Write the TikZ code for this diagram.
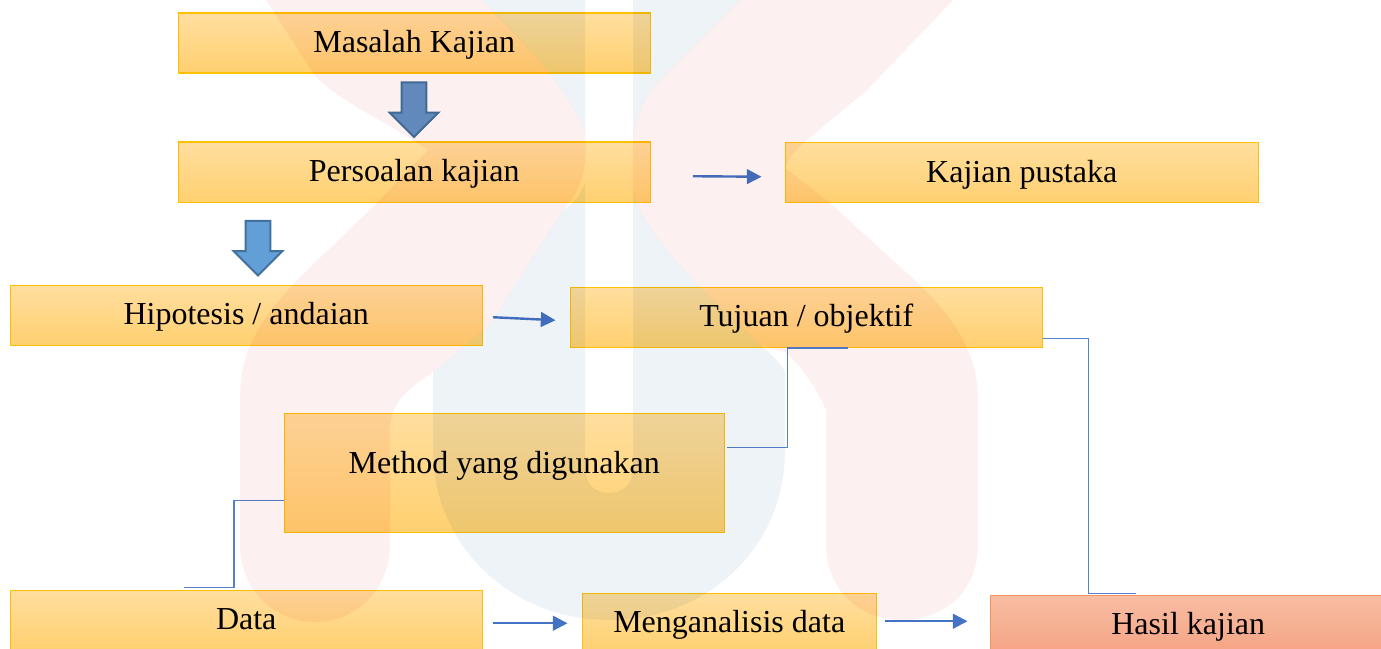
\documentclass[tikz,border=0pt]{standalone}
\usepackage{fontspec}
\setmainfont{Liberation Serif}
\usetikzlibrary{arrows.meta,shapes.arrows}
\definecolor{wmred}{HTML}{FDF0F0}
\definecolor{wmblue}{HTML}{EEF3F8}
\definecolor{yline}{HTML}{FFC000}
\definecolor{rline}{HTML}{F4935A}
\definecolor{ytop}{HTML}{FFDE9E}
\definecolor{ybot}{HTML}{FFD070}
\definecolor{rtop}{HTML}{F8BDA4}
\definecolor{rbot}{HTML}{F4A382}
\definecolor{arrline}{HTML}{41719C}
\definecolor{conn}{HTML}{4472C4}
\definecolor{elbowc}{HTML}{5580CC}
\definecolor{arrfillA}{HTML}{6292C8}
\definecolor{arrfillB}{HTML}{629FD6}
\tikzset{
  x=0.75pt,y=-0.75pt,
  box/.style={draw=#1,line width=1.1pt,anchor=north west,inner sep=0pt,font=\fontsize{24}{28}\selectfont,text=black},
  ybox/.style={box=yline,top color=ytop,bottom color=ybot},
  rbox/.style={box=rline,top color=rtop,bottom color=rbot},
  bl/.style={text height=1.5pt*#1,text depth=0pt},
  blockarrow/.style={single arrow,shape border rotate=270,draw=arrline,line width=1.5pt,fill=#1,minimum width=34pt,minimum height=41pt,single arrow head extend=8.9pt,single arrow head indent=0pt,inner sep=8.6pt},
  thinarrow/.style={draw=conn,line width=1.8pt,-{Triangle[length=11pt,width=11pt]}},
  elbow/.style={draw=elbowc,line width=1pt},
}
\begin{document}
\begin{tikzpicture}
\useasboundingbox (0,0) rectangle (1381,649);
\clip (0,0) rectangle (1381,649);
\fill[white] (0,0) rectangle (1381,649);
% boxes
\node[ybox,bl=9,minimum width=354pt,minimum height=45pt] (masalah) at (177.5,12.5) {Masalah Kajian};
\node[ybox,bl=9,minimum width=354pt,minimum height=45pt] (persoalan) at (177.5,141.5) {Persoalan kajian};
\node[ybox,bl=9.5,minimum width=354.75pt,minimum height=45pt] (pustaka) at (784.5,142) {Kajian pustaka};
\node[ybox,bl=9.5,minimum width=354pt,minimum height=45pt] (hipotesis) at (9.5,284.5) {Hipotesis / andaian};
\node[ybox,bl=9,minimum width=354pt,minimum height=45pt] (tujuan) at (569.5,286.5) {Tujuan / objektif};
\node[ybox,bl=0.5,minimum width=330pt,minimum height=89.25pt] (method) at (283.5,412.5) {Method yang digunakan};
\node[ybox,bl=9,minimum width=354pt,minimum height=45pt] (data) at (9.5,589.5) {Data};
\node[ybox,bl=9,minimum width=220.5pt,minimum height=45pt] (analisis) at (581.5,592.5) {Menganalisis data};
\node[rbox,bl=9,minimum width=297pt,minimum height=45pt] (hasil) at (989.5,594.5) {Hasil kajian};
% block arrows
\node[blockarrow=arrfillA] (a1) at (414,103.5) {};
\node[blockarrow=arrfillB] (a2) at (258,242) {};
% thin arrows
\draw[thinarrow] ([shift={(42,4)}]persoalan.east) -- ([shift={(-23,4)}]pustaka.west);
\draw[thinarrow] ([shift={(10,2)}]hipotesis.east) -- ([shift={(-14,3)}]tujuan.west);
\draw[thinarrow] ([shift={(10,3)}]data.east) -- ([shift={(-14,0)}]analisis.west);
\draw[thinarrow] ([shift={(8,-2)}]analisis.east) -- ([shift={(-22,-4)}]hasil.west);
% elbows
\draw[elbow] ([shift={(42,0)}]tujuan.south) -- ++(-61,0) |- ([shift={(2,-25.5)}]method.east);
\draw[elbow] ([shift={(0,27.5)}]method.west) -- ++(-49.5,0) |- ([shift={(-62,-2)}]data.north);
\draw[elbow] ([shift={(0,21)}]tujuan.east) -- ++(45.5,0) |- ([shift={(-52,-1)}]hasil.north);
% watermark
\begin{scope}[blend mode=multiply]
% blue U
\fill[wmblue] (477,-5) -- (585,-5) -- (585,135) .. controls (578,110) and (560,85) .. (530,50) -- cycle;
\fill[wmblue] (633,-5) -- (745,-5) -- (660,80) .. controls (640,100) and (633,125) .. (633,150) -- cycle;
\fill[wmblue] (585,182) -- (585,468) .. controls (585,484) and (595,493) .. (609,493) .. controls (623,493) and (633,484) .. (633,468)
  -- (633,190) .. controls (640,220) and (665,250) .. (700,287) -- (760,345)
  .. controls (772,355) and (780,362) .. (785,372)
  -- (785,450) .. controls (785,550) and (705,620) .. (610,620)
  .. controls (510,620) and (433,545) .. (433,450) -- (433,372) -- (490,325) -- (563,210) .. controls (575,203) and (582,193) .. cycle;
% left red
\fill[wmred] (263,-5) -- (477,-5) -- (530,50) .. controls (560,85) and (578,110) .. (585,135)
  .. controls (588,165) and (582,190) .. (563,210)
  -- (490,325) -- (433,372) .. controls (405,390) and (390,405) .. (390,430) -- (390,545)
  .. controls (390,590) and (355,622) .. (315,622) .. controls (275,622) and (240,590) .. (240,545)
  -- (240,400) .. controls (240,375) and (245,355) .. (253,340) .. controls (262,320) and (280,298) .. (297,280) -- (377,203) -- (428,150)
  .. controls (385,120) and (335,100) .. (313,73) -- cycle;
% right red
\fill[wmred] (745,-5) -- (958,-5) -- (867,90) -- (807,140) .. controls (795,150) and (788,158) .. (785,168)
  -- (830,203) -- (920,285) .. controls (950,315) and (978,350) .. (978,400) -- (978,545)
  .. controls (978,590) and (945,620) .. (902,620) .. controls (860,620) and (826,590) .. (826,545)
  -- (826,410) .. controls (815,385) and (800,365) .. (785,352) -- (760,345) -- (700,287)
  .. controls (665,250) and (640,220) .. (633,190) -- (633,150) .. controls (633,125) and (640,100) .. (660,80) -- cycle;
\end{scope}
\end{tikzpicture}
\end{document}
